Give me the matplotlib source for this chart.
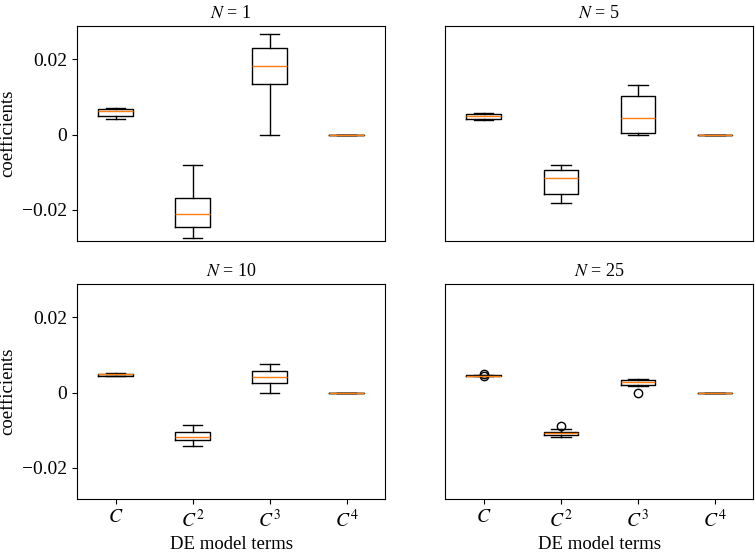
import matplotlib
matplotlib.use("Agg")
import matplotlib.pyplot as plt

plt.rcParams['font.family'] = ['Liberation Serif', 'DejaVu Serif']
plt.rcParams['mathtext.fontset'] = 'stix'
plt.rcParams['font.size'] = 13.5
plt.rcParams['axes.titlesize'] = 13
plt.rcParams['axes.labelsize'] = 13.5
plt.rcParams['xtick.labelsize'] = 14
plt.rcParams['ytick.labelsize'] = 14

# box statistics, one list per N, order C, C^2, C^3, C^4
terms = ["$C$", "$C^2$", "$C^3$", "$C^4$"]
panel_N = [1, 5, 10, 25]

whislo = {
    1: [0.0041, -0.0275, 0.0, 0.0],
    5: [0.0040, -0.0181, 0.0, 0.0],
    10: [0.0043, -0.0143, 0.0, 0.0],
    25: [0.0045, -0.0119, 0.0017, 0.0],
}
q1 = {
    1: [0.0049, -0.0246, 0.0134, 0.0],
    5: [0.0041, -0.0158, 0.0005, 0.0],
    10: [0.0045, -0.0127, 0.0026, 0.0],
    25: [0.0044, -0.0113, 0.0021, 0.0],
}
med = {
    1: [0.0063, -0.0210, 0.0181, 0.0],
    5: [0.0049, -0.0114, 0.0044, 0.0],
    10: [0.0048, -0.0117, 0.0041, 0.0],
    25: [0.0045, -0.0108, 0.0028, 0.0],
}
q3 = {
    1: [0.0069, -0.0169, 0.0231, 0.0],
    5: [0.0056, -0.0093, 0.0102, 0.0],
    10: [0.0050, -0.0106, 0.0056, 0.0],
    25: [0.0046, -0.0104, 0.0033, 0.0],
}
whishi = {
    1: [0.0071, -0.0082, 0.0268, 0.0],
    5: [0.0057, -0.0082, 0.0133, 0.0],
    10: [0.0052, -0.0085, 0.0077, 0.0],
    25: [0.0046, -0.0097, 0.0037, 0.0],
}
fliers = {
    1: [[], [], [], []],
    5: [[], [], [], []],
    10: [[], [], [], []],
    25: [[0.0048, 0.0043], [-0.0088], [0.0], []],
}

fig, axes = plt.subplots(2, 2, figsize=(7.55, 5.57), dpi=100, sharey=True)
fig.subplots_adjust(left=0.102, right=0.998, top=0.953, bottom=0.104,
                    wspace=0.195, hspace=0.2)

for ax, n in zip(axes.flat, panel_N):
    stats = []
    for i in range(4):
        stats.append({
            'whislo': whislo[n][i], 'q1': q1[n][i], 'med': med[n][i],
            'q3': q3[n][i], 'whishi': whishi[n][i], 'fliers': fliers[n][i],
        })
    ax.bxp(stats, positions=[1, 2, 3, 4], widths=0.45, capwidths=0.25,
           medianprops=dict(color='#ff7f0e', zorder=4),
           flierprops=dict(marker='o', markerfacecolor='none',
                           markeredgecolor='black'))
    ax.set_title(f"$N$ = {n}")
    ax.set_xlim(0.5, 4.5)
    ax.set_xticks([1, 2, 3, 4])
    ax.set_xticklabels(terms)

ax0 = axes[0, 0]
ax0.set_ylim(-0.0283, 0.0288)
ax0.set_yticks([-0.02, 0, 0.02])
ax0.set_yticklabels(['\u22120.02', '0', '0.02'])

for ax in axes[0]:
    ax.tick_params(bottom=False, labelbottom=False)
for ax in axes[:, 1]:
    ax.tick_params(left=False, labelleft=False)
for ax in axes[:, 0]:
    ax.set_ylabel("coefficients")
for ax in axes[1]:
    ax.set_xlabel("DE model terms")

plt.savefig("out.png")
